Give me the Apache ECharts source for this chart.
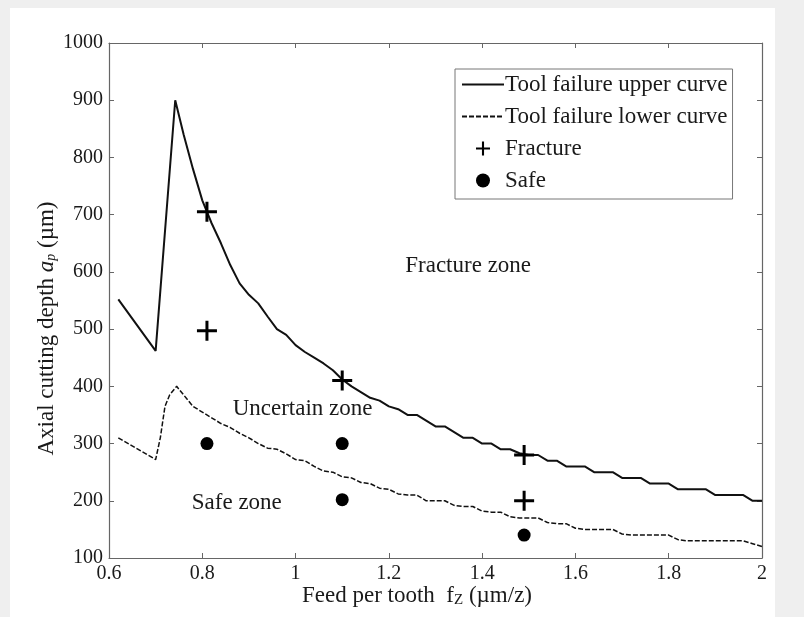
<!DOCTYPE html>
<html>
<head>
<meta charset="utf-8">
<script src="https://cdn.jsdelivr.net/npm/echarts@6/dist/echarts.min.js"></script>
<style>
html,body{margin:0;padding:0;background:#efefef;}
#chart{width:804px;height:617px;}
</style>
</head>
<body>
<div id="chart"></div>
<script>
// ---- data ----
const upperX = [0.62,0.70,0.742,0.76,0.78,0.80,0.82,0.84,0.86,0.88,0.90,0.92,0.94,0.96,0.98,1.00,1.02,1.04,1.06,1.08,1.10,1.12,1.14,1.16,1.18,1.20,1.22,1.24,1.26,1.28,1.30,1.32,1.34,1.36,1.38,1.40,1.42,1.44,1.46,1.48,1.50,1.52,1.54,1.56,1.58,1.60,1.62,1.64,1.66,1.68,1.70,1.72,1.74,1.76,1.78,1.80,1.82,1.84,1.86,1.88,1.90,1.92,1.94,1.96,1.98,2.00];
const upperY = [552,462,900,840,780,725,685,650,612,580,560,545,522,500,490,472,460,450,440,428,412,400,390,380,375,365,360,350,350,340,330,330,320,310,310,300,300,290,290,283,280,280,270,270,260,260,260,250,250,250,240,240,240,230,230,230,220,220,220,220,210,210,210,210,200,200];
const lowerX = [0.62,0.70,0.71,0.72,0.73,0.745,0.76,0.78,0.80,0.82,0.84,0.86,0.88,0.90,0.92,0.94,0.96,0.98,1.00,1.02,1.04,1.06,1.08,1.10,1.12,1.14,1.16,1.18,1.20,1.22,1.24,1.26,1.28,1.30,1.32,1.34,1.36,1.38,1.40,1.42,1.44,1.46,1.48,1.50,1.52,1.54,1.56,1.58,1.60,1.62,1.64,1.66,1.68,1.70,1.72,1.74,1.76,1.78,1.80,1.82,1.84,1.86,1.88,1.90,1.92,1.94,1.96,1.98,2.00];
const lowerY = [310,272,310,365,385,400,385,365,355,345,335,328,318,310,300,292,290,282,272,270,260,252,250,242,240,232,230,222,220,212,210,210,200,200,200,192,190,190,182,180,180,172,170,170,170,162,160,160,152,150,150,150,150,142,140,140,140,140,140,132,130,130,130,130,130,130,130,125,120];
const fractureX = [0.81,0.81,1.10,1.49,1.49];
const fractureY = [705,497,410,280,200];
const safeX = [0.81,1.10,1.10,1.49];
const safeY = [300,300,202,140];
const zoneNames = ['Fracture zone','Uncertain zone','Safe zone'];
const zoneX = [1.37,1.015,0.874];
const zoneY = [611,360,196];
const seriesNames = ['Tool failure upper curve','Tool failure lower curve','Fracture','Safe'];
const xTicks = {min:0.6,max:2,interval:0.2};
const yTicks = {min:100,max:1000,interval:100};

// ---- chart ----
const FONT = 'Liberation Serif';
const TXT = '#1a1a1a';
const AX = '#666';
const zip = (a,b) => a.map((v,i)=>[v,b[i]]);
const plus = 'path://M4.25,0H5.75V4.25H10V5.75H5.75V10H4.25V5.75H0V4.25H4.25Z';

const chart = echarts.init(document.getElementById('chart'), null, {renderer:'canvas'});
const axisCommon = {
  type:'value',
  axisLine:{show:true,lineStyle:{color:AX,width:1.2}},
  axisTick:{show:true,inside:true,length:5,lineStyle:{color:AX}},
  splitLine:{show:false}
};
chart.setOption({
  backgroundColor:'#efefef',
  animation:false,
  graphic:[{type:'rect',z:-10,shape:{x:10,y:8,width:765,height:609},style:{fill:'#ffffff'}}],
  grid:{left:109,top:43,right:42,bottom:59},
  legend:{
    data:[
      {name:seriesNames[0],itemStyle:{opacity:0}},
      {name:seriesNames[1],itemStyle:{opacity:0}},
      {name:seriesNames[2]},
      {name:seriesNames[3]}
    ],
    orient:'vertical',
    left:455, top:69,
    padding:[4,5,7,6],
    itemGap:9,
    itemWidth:42, itemHeight:14,
    backgroundColor:'#fff',
    borderColor:'#777', borderWidth:1,
    textStyle:{fontFamily:FONT,fontSize:23,color:TXT,padding:[0,0,0,-4]}
  },
  xAxis:[
    Object.assign({}, axisCommon, {
      min:xTicks.min, max:xTicks.max, interval:xTicks.interval, position:'bottom',
      axisLabel:{fontFamily:FONT,fontSize:20,color:TXT,margin:6,formatter:v=>String(+v.toFixed(2))},
      name:'Feed per tooth  f{sub|Z} (µm/z)',
      nameLocation:'middle', nameGap:26, nameMoveOverlap:false,
      nameTextStyle:{fontFamily:FONT,fontSize:23,color:TXT,padding:[0,37,0,0],
        rich:{sub:{fontFamily:FONT,fontSize:15,color:TXT,padding:[9,0,0,0],verticalAlign:'bottom'}}}
    }),
    Object.assign({}, axisCommon, {
      min:xTicks.min, max:xTicks.max, interval:xTicks.interval, position:'top',
      axisLabel:{show:false}
    })
  ],
  yAxis:[
    Object.assign({}, axisCommon, {
      min:yTicks.min, max:yTicks.max, interval:yTicks.interval, position:'left',
      axisLabel:{fontFamily:FONT,fontSize:20,color:TXT,margin:6,formatter:v=>String(v)},
      name:'Axial cutting depth {it|a}{sub|p} (µm)',
      nameLocation:'middle', nameGap:51, nameMoveOverlap:false,
      nameTextStyle:{fontFamily:FONT,fontSize:23,color:TXT,padding:[0,56,0,0],
        rich:{
          it:{fontFamily:FONT,fontSize:23,fontStyle:'italic',color:TXT},
          sub:{fontFamily:FONT,fontSize:14,fontStyle:'italic',color:TXT,padding:[9,0,0,0],verticalAlign:'bottom'}
        }}
    }),
    Object.assign({}, axisCommon, {
      min:yTicks.min, max:yTicks.max, interval:yTicks.interval, position:'right',
      axisLabel:{show:false}
    })
  ],
  series:[
    {name:seriesNames[0],type:'line',data:zip(upperX,upperY),symbol:'none',
      lineStyle:{color:'#111',width:2},itemStyle:{color:'#111'},z:3},
    {name:seriesNames[1],type:'line',data:zip(lowerX,lowerY),symbol:'none',
      lineStyle:{color:'#111',width:1.5,type:[5,2]},itemStyle:{color:'#111'},z:3},
    {name:seriesNames[2],type:'scatter',data:zip(fractureX,fractureY),symbol:plus,symbolSize:20,
      itemStyle:{color:'#000',opacity:1},z:5},
    {name:seriesNames[3],type:'scatter',data:zip(safeX,safeY),symbol:'circle',symbolSize:13,
      itemStyle:{color:'#000',opacity:1},z:5},
    {name:'zones',type:'scatter',symbolSize:1,itemStyle:{color:'rgba(0,0,0,0)',opacity:1},
      data:zoneX.map((x,i)=>({value:[x,zoneY[i]],name:zoneNames[i]})),
      label:{show:true,position:'inside',formatter:p=>p.name,fontFamily:FONT,fontSize:23,color:TXT,opacity:1},
      silent:true,z:4}
  ]
});
</script>
</body>
</html>
